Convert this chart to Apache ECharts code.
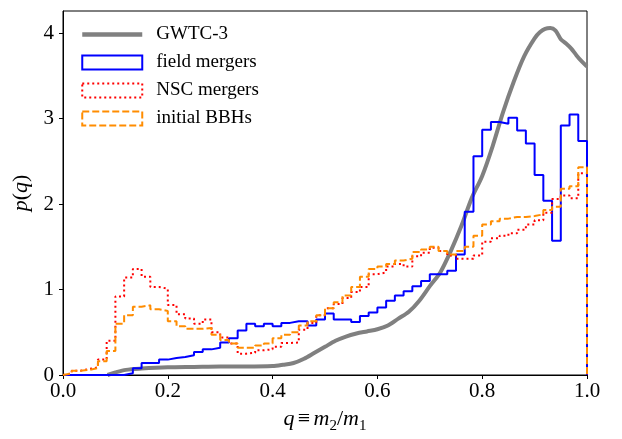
<!DOCTYPE html>
<html><head><meta charset="utf-8">
<script src="https://cdn.jsdelivr.net/npm/echarts@6/dist/echarts.min.js"></script>
<style>html,body{margin:0;padding:0;background:#fff}#c{width:622px;height:439px}</style>
</head><body><div id="c"></div>
<script>
// ---- data (60 equal-width bins on q in [0,1]) ----
const nBins = 60;
const fieldMergers = [
  0,0,0,0,0,0,0,0.02,0.08,0.14,
  0.14,0.18,0.20,0.21,0.23,0.27,0.30,0.32,0.38,0.43,
  0.52,0.60,0.57,0.60,0.57,0.61,0.63,0.63,0.58,0.65,
  0.72,0.65,0.65,0.62,0.69,0.73,0.79,0.87,0.93,0.98,
  1.04,1.10,1.18,1.18,1.22,1.41,1.91,2.56,2.87,2.96,
  2.94,3.01,2.86,2.71,2.34,2.04,1.57,2.92,3.05,2.74
];
const nscMergers = [
  0.02,0.05,0.07,0.09,0.18,0.40,0.92,1.14,1.24,1.15,
  1.03,1.01,0.82,0.71,0.66,0.60,0.65,0.50,0.44,0.37,
  0.25,0.26,0.29,0.30,0.33,0.375,0.38,0.53,0.61,0.70,
  0.78,0.83,0.90,0.97,1.03,1.18,1.20,1.27,1.30,1.27,
  1.39,1.43,1.49,1.45,1.40,1.36,1.36,1.40,1.56,1.60,
  1.63,1.66,1.70,1.76,1.81,1.90,2.06,2.10,2.07,2.36
];
const initialBBHs = [
  0.02,0.05,0.06,0.08,0.16,0.28,0.60,0.70,0.80,0.815,
  0.77,0.75,0.63,0.57,0.54,0.54,0.55,0.47,0.41,0.37,
  0.32,0.32,0.345,0.37,0.43,0.47,0.50,0.58,0.63,0.70,
  0.78,0.85,0.93,1.03,1.15,1.24,1.27,1.30,1.34,1.36,
  1.44,1.47,1.50,1.45,1.41,1.45,1.50,1.63,1.76,1.80,
  1.83,1.85,1.85,1.86,1.88,1.93,1.97,2.18,2.21,2.43
];
const gwtcQ = [0.085,0.10,0.12,0.15,0.20,0.25,0.30,0.35,0.40,0.42,0.44,0.46,0.48,0.50,0.52,0.54,0.56,0.58,0.60,0.62,0.64,0.66,0.68,0.70,0.72,0.74,0.76,0.78,0.80,0.82,0.84,0.86,0.88,0.90,0.91,0.92,0.93,0.94,0.95,0.96,0.97,0.98,0.99,1.00];
const gwtcP = [0.0,0.03,0.06,0.075,0.09,0.095,0.10,0.10,0.105,0.12,0.14,0.19,0.26,0.33,0.40,0.45,0.485,0.51,0.535,0.58,0.66,0.74,0.87,1.04,1.20,1.45,1.74,2.07,2.33,2.68,3.08,3.43,3.73,3.94,4.01,4.05,4.06,4.03,3.93,3.88,3.82,3.74,3.67,3.61];
const xTicks = [0, 0.2, 0.4, 0.6, 0.8, 1.0];
const yTicks = [0, 1, 2, 3, 4];
const seriesNames = ['GWTC-3', 'field mergers', 'NSC mergers', 'initial BBHs'];

const FONT = 'Liberation Serif';
function stepData(vals) {
  const d = [[0, 0]];
  vals.forEach((v, i) => d.push([i / nBins, v]));
  d.push([1, vals[vals.length - 1]]);
  d.push([1, 0]);
  return d;
}
const chart = echarts.init(document.getElementById('c'), null, {renderer: 'canvas'});
const stepSeries = (name, vals, color, type, z) => ({
  name, type: 'line', step: 'end', data: stepData(vals), symbol: 'none',
  lineStyle: {color, width: 2, type}, itemStyle: {color}, z, animation: false
});
chart.setOption({
  animation: false,
  grid: {left: 63, top: 11, width: 524, height: 372, show: true, borderColor: '#000', borderWidth: 1},
  legend: {
    orient: 'vertical', left: 80, top: 25, padding: 0, itemGap: 9, itemWidth: 60, itemHeight: 14,
    selectedMode: false,
    textStyle: {fontFamily: FONT, fontSize: 19, color: '#000', padding: [0, 0, 0, 9]},
    data: [
      {name: seriesNames[0], itemStyle: {color: 'rgba(0,0,0,0)', borderColor: 'rgba(0,0,0,0)', borderWidth: 0},
       lineStyle: {color: '#808080', width: 4.5}},
      {name: seriesNames[1], icon: 'rect', itemStyle: {color: 'rgba(0,0,0,0)', borderColor: '#0000ff', borderWidth: 2, borderType: 'solid'}},
      {name: seriesNames[2], icon: 'rect', itemStyle: {color: 'rgba(0,0,0,0)', borderColor: '#ff0000', borderWidth: 2, borderType: [2, 3]}},
      {name: seriesNames[3], icon: 'rect', itemStyle: {color: 'rgba(0,0,0,0)', borderColor: '#ff8c00', borderWidth: 2, borderType: [7, 3]}}
    ]
  },
  xAxis: {
    type: 'value', min: 0, max: 1, interval: 0.2,
    axisLine: {show: true, lineStyle: {color: '#000', width: 1}},
    axisTick: {show: true, inside: false, length: 4, lineStyle: {color: '#000'}, customValues: xTicks},
    axisLabel: {fontFamily: FONT, fontSize: 21, color: '#000', margin: 6, customValues: xTicks, formatter: v => v.toFixed(1)},
    splitLine: {show: false},
    name: '{i|q} {n|≡} {i|m}{s|2}{n|/}{i|m}{s|1}',
    nameLocation: 'middle', nameGap: 29,
    nameTextStyle: {rich: {
      i: {fontFamily: FONT, fontStyle: 'italic', fontSize: 22, lineHeight: 30, color: '#000'},
      n: {fontFamily: FONT, fontSize: 22, lineHeight: 30, color: '#000'},
      s: {fontFamily: FONT, fontSize: 15, lineHeight: 16, verticalAlign: 'bottom', color: '#000'}
    }}
  },
  yAxis: {
    type: 'value', min: 0, max: 4.26, interval: 1,
    axisLine: {show: true, lineStyle: {color: '#000', width: 1}},
    axisTick: {show: true, inside: false, length: 4, lineStyle: {color: '#000'}, customValues: yTicks},
    axisLabel: {fontFamily: FONT, fontSize: 21, color: '#000', margin: 9, customValues: yTicks,
      formatter: v => (Math.abs(v - Math.round(v)) < 1e-6 ? String(Math.round(v)) : '')},
    splitLine: {show: false},
    name: '{i|p}{n|(}{i|q}{n|)}',
    nameLocation: 'middle', nameGap: 26, nameRotate: 90,
    nameTextStyle: {rich: {
      i: {fontFamily: FONT, fontStyle: 'italic', fontSize: 22, color: '#000'},
      n: {fontFamily: FONT, fontSize: 22, color: '#000'}
    }}
  },
  series: [
    {name: seriesNames[0], type: 'line', data: gwtcQ.map((q, i) => [q, gwtcP[i]]), smooth: 0.3,
     symbol: 'none', lineStyle: {color: '#808080', width: 4}, itemStyle: {color: '#808080'}, z: 1},
    stepSeries(seriesNames[1], fieldMergers, '#0000ff', 'solid', 2),
    stepSeries(seriesNames[2], nscMergers, '#ff0000', [2, 3], 3),
    stepSeries(seriesNames[3], initialBBHs, '#ff8c00', [7, 3], 4)
  ]
});
</script></body></html>
